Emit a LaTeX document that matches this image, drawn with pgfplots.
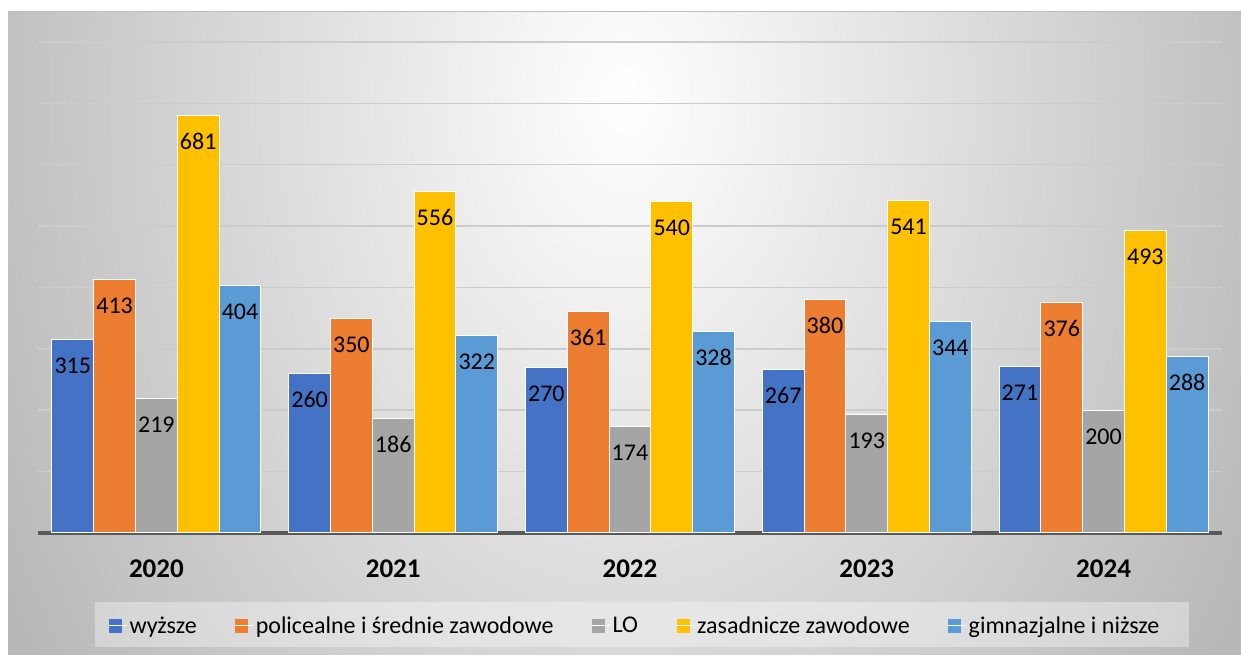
\documentclass[border=0pt]{standalone}
\usepackage{pgfplots}
\pgfplotsset{compat=1.18}
\usepackage{fontspec}
\setmainfont{Carlito}
\definecolor{cblue}{HTML}{4472C4}
\definecolor{corange}{HTML}{ED7D31}
\definecolor{cgray}{HTML}{A5A5A5}
\definecolor{cyellow}{HTML}{FFC000}
\definecolor{clblue}{HTML}{5B9BD5}
\definecolor{bgout}{gray}{0.72}
\definecolor{gridgray}{gray}{0.80}
\definecolor{axisgray}{HTML}{595959}
\begin{document}
\begin{tikzpicture}[x=1pt,y=1pt]
\path[use as bounding box] (0,0) rectangle (1241,655);
\fill[white] (0,0) rectangle (1241,655);
\begin{scope}
\clip (8,0) rectangle (1241,643);
\fill[bgout] (8,0) rectangle (1241,643);
\shade[inner color=white, outer color=bgout] (625,555) ellipse (715 and 1000);
\end{scope}
\draw[line width=1pt, color=gray!50] (8,643) -- (1241,643);
\fill[white, opacity=0.35] (95,8) rectangle (1189,53);
\begin{axis}[
  at={(38pt,122pt)}, anchor=south west,
  scale only axis, width=1184pt, height=491pt,
  xmin=-0.5, xmax=4.5, ymin=0, ymax=800,
  ybar=0pt, bar width=41.8pt,
  axis x line*=bottom, axis y line*=left,
  y axis line style={draw=none},
  x axis line style={line width=4pt, draw=axisgray, -},
  ytick={100,200,...,800}, yticklabels={},
  ymajorgrids, grid style={line width=1.5pt, color=gridgray},
  xtick={0,1,2,3,4}, xticklabels={2020,2021,2022,2023,2024},
  major tick length=0pt,
  xticklabel style={font=\bfseries\fontsize{27}{30}\selectfont, text height=17pt, text depth=0pt, inner sep=0pt, anchor=north, yshift=-27pt},
  /pgf/number format/assume math mode=true,
  nodes near coords,
  every node near coord/.append style={font=\fontsize{24}{26}\selectfont, anchor=center, yshift=-26.5pt, text height=15pt, text depth=0pt, inner sep=0pt, text=black},
  legend style={at={(0.5042,-0.1884)}, anchor=center, legend columns=5, draw=none, fill=none, font=\fontsize{24}{26}\selectfont, inner sep=0pt, /tikz/every even column/.append style={column sep=36pt}},
  legend image code/.code={\fill[#1, draw=none, fill opacity=1] (0pt,-7pt) rectangle (13pt,7pt); \path (0pt,0pt) -- (18pt,0pt);},
]
\addplot[fill=cblue, draw=white, line width=1pt] coordinates {(0,315) (1,260) (2,270) (3,267) (4,271)};
\addplot[fill=corange, draw=white, line width=1pt] coordinates {(0,413) (1,350) (2,361) (3,380) (4,376)};
\addplot[fill=cgray, draw=white, line width=1pt] coordinates {(0,219) (1,186) (2,174) (3,193) (4,200)};
\addplot[fill=cyellow, draw=white, line width=1pt] coordinates {(0,681) (1,556) (2,540) (3,541) (4,493)};
\addplot[fill=clblue, draw=white, line width=1pt] coordinates {(0,404) (1,322) (2,328) (3,344) (4,288)};
\legend{wyższe, policealne i średnie zawodowe, LO, zasadnicze zawodowe, gimnazjalne i niższe}
\end{axis}
\end{tikzpicture}
\end{document}
